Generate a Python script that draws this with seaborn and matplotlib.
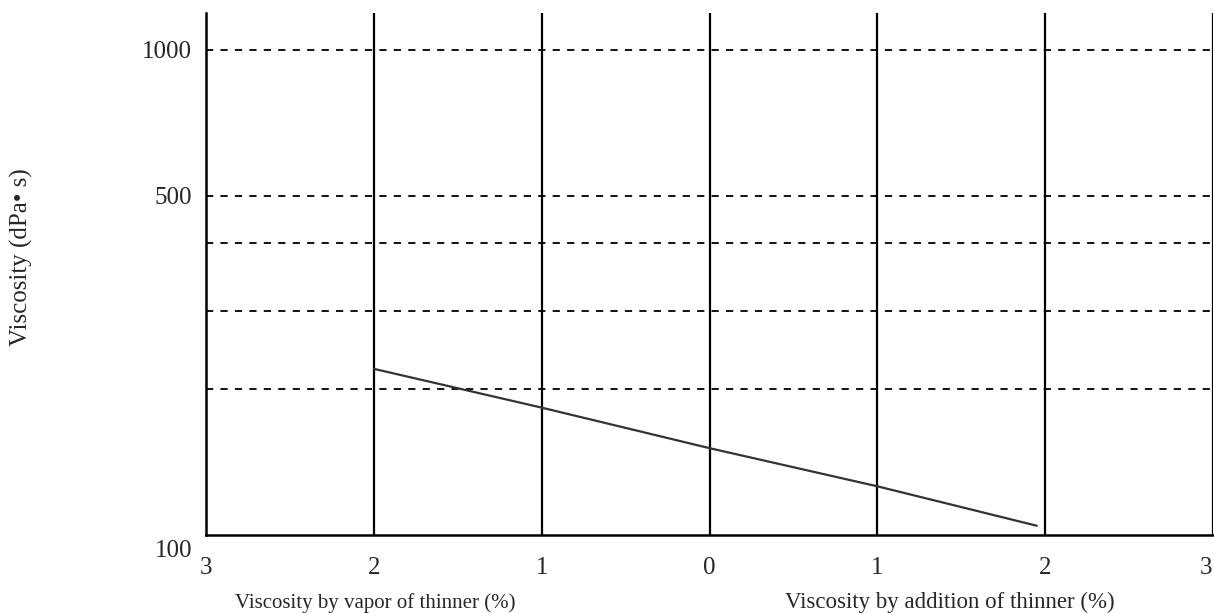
import numpy as np
import pandas as pd
import seaborn as sns
import matplotlib.pyplot as plt
from matplotlib import transforms

# thinner amount (%), negative side = evaporated, positive side = added
thinner = [-2, -1, 0, 1, 1.95]
viscosity = [220, 183, 151, 126, 104.5]

x_ticks = [-3, -2, -1, 0, 1, 2, 3]
x_tick_labels = ["3", "2", "1", "0", "1", "2", "3"]
y_ticks = [100, 500, 1000]
y_tick_labels = ["100", "500", "1000"]
grid_levels = [1000, 500, 400, 290, 200]
vert_lines = [-2, -1, 0, 1, 2, 3]

df = pd.DataFrame({"thinner": thinner, "viscosity": viscosity})

sns.set_style("white")
plt.rcParams['font.family'] = ['Liberation Serif', 'DejaVu Serif']

fig = plt.figure(figsize=(12.14, 6.13), dpi=100)
ax = fig.add_axes([0.1697, 0.1272, 0.8295, 0.8516])

ax.set_yscale("log")
ax.set_xlim(-3, 3)
ax.set_ylim(100, 1190)

# grid
for g in grid_levels:
    ax.axhline(g, color="black", lw=1.3, ls=(0, (4, 4)), zorder=1)
for v in vert_lines:
    ax.axvline(v, color="black", lw=1.6, zorder=2)

sns.lineplot(data=df, x="thinner", y="viscosity", ax=ax, color="#333333", lw=1.6, zorder=3)

ax.set_xticks(x_ticks)
ax.set_xticklabels(x_tick_labels)
ax.set_yticks(y_ticks)
ax.set_yticklabels(y_tick_labels)
ax.yaxis.set_minor_locator(plt.NullLocator())
ax.tick_params(axis="x", length=0, pad=16, labelsize=18)
ax.tick_params(axis="y", length=0, pad=10, labelsize=18)

# the 100 label sits a bit below the axis in the original
lab = ax.get_yticklabels()[0]
lab.set_transform(lab.get_transform() + transforms.ScaledTranslation(0, -0.13, fig.dpi_scale_trans))
# last x label is pulled in a little so it stays on the canvas
lab = ax.get_xticklabels()[-1]
lab.set_transform(lab.get_transform() + transforms.ScaledTranslation(-0.07, 0, fig.dpi_scale_trans))

for s in ["top", "right"]:
    ax.spines[s].set_visible(False)
for s in ["left", "bottom"]:
    ax.spines[s].set_color("black")
    ax.spines[s].set_linewidth(1.8)

ax.set_xlabel("")
ax.set_ylabel("Viscosity (dPa• s)", fontsize=18)
ax.yaxis.set_label_coords(-0.172, 0.532)

trans = transforms.blended_transform_factory(ax.transData, ax.transAxes)
ax.text(-1.99, -0.13, "Viscosity by vapor of thinner (%)", transform=trans,
        ha="center", va="center", fontsize=15)
ax.text(1.43, -0.13, "Viscosity by addition of thinner (%)", transform=trans,
        ha="center", va="center", fontsize=16.5)

fig.savefig("out.png", dpi=100)
